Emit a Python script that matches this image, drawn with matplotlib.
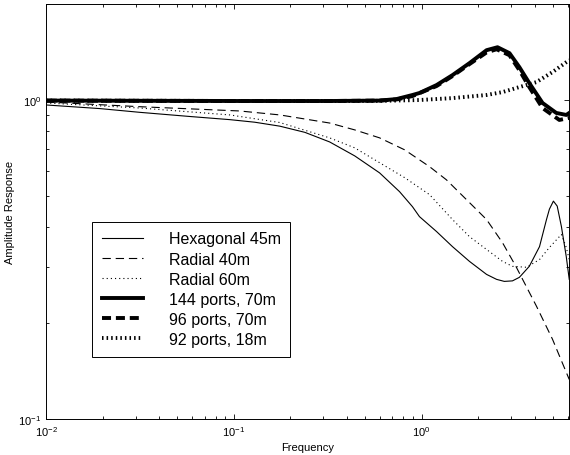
import numpy as np
import matplotlib
matplotlib.use('Agg')
import matplotlib.pyplot as plt
from matplotlib.ticker import NullFormatter, LogLocator

plt.rcParams['font.family'] = ['Liberation Sans', 'DejaVu Sans']
plt.rcParams['mathtext.fontset'] = 'custom'
plt.rcParams['mathtext.rm'] = 'Liberation Sans'
plt.rcParams['mathtext.default'] = 'regular'
plt.rcParams['lines.scale_dashes'] = False

# Datos (frecuencia, respuesta)
f_hex45 = [0.01, 0.0194, 0.0316, 0.0583, 0.0953, 0.1294, 0.176, 0.239, 0.324, 0.441,
           0.598, 0.764, 0.895, 0.975, 1.202, 1.462, 1.80, 2.22, 2.51, 2.76, 3.05,
           3.32, 3.75, 4.25, 4.63, 4.80, 5.04, 5.28, 5.56, 5.90, 6.12]
a_hex45 = [0.965, 0.940, 0.915, 0.888, 0.868, 0.852, 0.828, 0.792, 0.739, 0.668,
           0.591, 0.516, 0.463, 0.431, 0.387, 0.347, 0.312, 0.284, 0.274, 0.270, 0.271,
           0.278, 0.301, 0.347, 0.422, 0.455, 0.482, 0.465, 0.401, 0.323, 0.274]

f_rad40 = [0.01, 0.0316, 0.1076, 0.176, 0.324, 0.441, 0.598, 0.813, 1.104, 1.358,
           1.80, 2.22, 2.70, 3.20, 4.09, 4.98, 6.12]
a_rad40 = [0.986, 0.953, 0.924, 0.898, 0.847, 0.806, 0.761, 0.698, 0.618, 0.562,
           0.477, 0.422, 0.357, 0.299, 0.226, 0.178, 0.133]

f_rad60 = [0.01, 0.0316, 0.0953, 0.176, 0.324, 0.441, 0.598, 0.813, 1.104, 1.462,
           1.80, 2.22, 2.70, 3.05, 3.62, 4.25, 4.80, 5.56, 5.90, 6.12]
a_rad60 = [0.979, 0.944, 0.898, 0.850, 0.761, 0.708, 0.636, 0.571, 0.505, 0.422,
           0.373, 0.340, 0.312, 0.301, 0.299, 0.316, 0.345, 0.379, 0.345, 0.316]

f_p144 = [0.01, 0.1076, 0.324, 0.598, 0.736, 0.895, 0.975, 1.202, 1.462, 1.80, 2.22,
          2.54, 2.94, 3.32, 3.75, 4.41, 5.22, 5.90, 6.12]
a_p144 = [0.996, 0.993, 0.993, 0.996, 1.007, 1.037, 1.052, 1.114, 1.197, 1.305, 1.433,
          1.464, 1.403, 1.268, 1.130, 0.979, 0.911, 0.898, 0.911]

f_p96 = [0.01, 0.1076, 0.324, 0.598, 0.736, 0.895, 1.202, 1.462, 1.80, 2.22, 2.51,
         2.94, 3.32, 3.75, 4.41, 5.42, 6.12]
a_p96 = [0.996, 0.993, 0.993, 0.996, 1.004, 1.029, 1.106, 1.189, 1.296, 1.41, 1.443,
         1.382, 1.241, 1.098, 0.944, 0.866, 0.879]

f_p92 = [0.01, 0.1076, 0.324, 0.598, 0.975, 1.462, 2.22, 2.70, 3.32, 4.09, 4.98,
         5.90, 6.12]
a_p92 = [0.996, 0.993, 0.993, 0.994, 1.0, 1.014, 1.037, 1.059, 1.098, 1.138, 1.223,
         1.314, 1.334]

etiquetas = ['Hexagonal 45m', 'Radial 40m', 'Radial 60m',
             '144 ports, 70m', '96 ports, 70m', '92 ports, 18m']

fig = plt.figure(figsize=(5.7, 4.56), dpi=100)
ax = fig.add_axes([0.0807, 0.079, 0.9175, 0.91])

ax.plot(f_hex45, a_hex45, 'k-', lw=0.8, label=etiquetas[0])
ax.plot(f_rad40, a_rad40, 'k', lw=0.8, dashes=(6, 3.5), label=etiquetas[1])
ax.plot(f_rad60, a_rad60, 'k', lw=0.8, dashes=(0.8, 2.2), label=etiquetas[2])
ax.plot(f_p144, a_p144, 'k-', lw=2.8, label=etiquetas[3])
ax.plot(f_p96, a_p96, 'k', lw=2.8, dashes=(6.5, 3.5), label=etiquetas[4])
ax.plot(f_p92, a_p92, 'k', lw=2.8, dashes=(1.1, 2.2), label=etiquetas[5])

ax.set_xscale('log')
ax.set_yscale('log')
ax.set_xlim(0.01, 6.1)
ax.set_ylim(0.1, 2.0)
ax.yaxis.set_major_locator(LogLocator(base=10, numticks=5))
ax.yaxis.set_minor_locator(LogLocator(base=10, subs=np.arange(2, 10), numticks=10))
ax.yaxis.set_minor_formatter(NullFormatter())
ax.xaxis.set_minor_formatter(NullFormatter())
ax.tick_params(which='both', direction='in', top=True, right=True, labelsize=8, width=0.6)
ax.tick_params(which='major', length=3.6)
ax.tick_params(which='minor', length=2.2)
for s in ax.spines.values():
    s.set_linewidth(0.7)

ax.set_xlabel('Frequency', size=8, labelpad=3)
ax.set_ylabel('Amplitude Response', size=8, labelpad=2)

leg = ax.legend(loc='upper left', bbox_to_anchor=(0.088, 0.475), borderaxespad=0,
                fontsize=11.5, handlelength=2.6, handletextpad=1.6, labelspacing=0.32,
                borderpad=0.6, fancybox=False, framealpha=1, edgecolor='k')
leg.get_frame().set_linewidth(0.7)

fig.savefig('out.png', dpi=100)
plt.close()
